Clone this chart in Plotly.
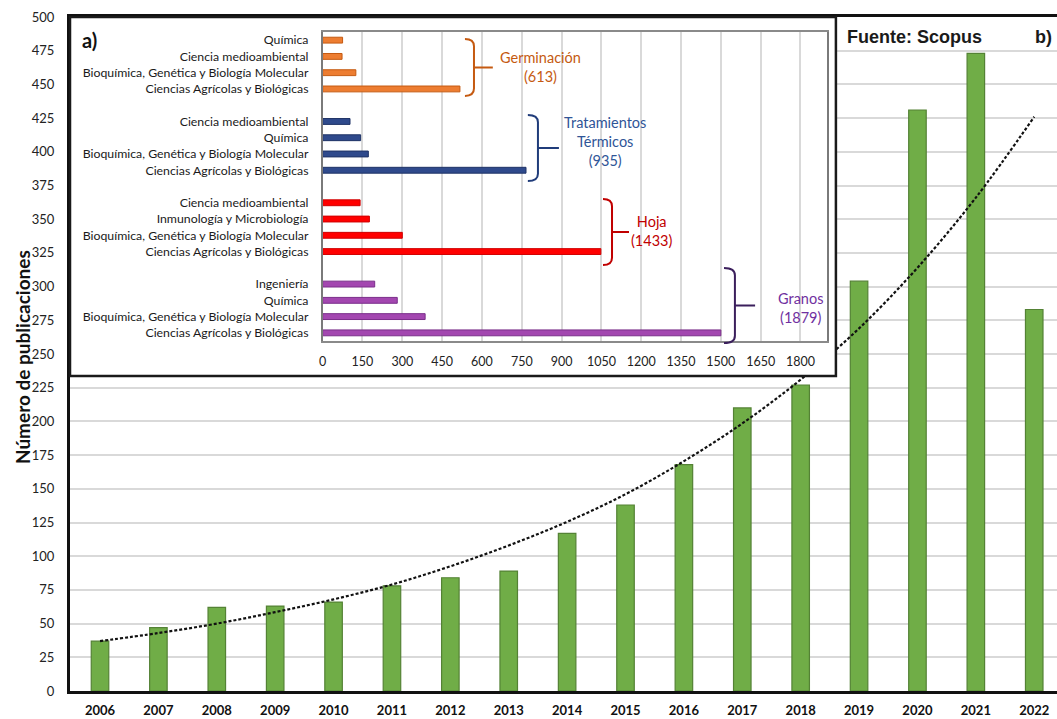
import plotly.graph_objects as go

# ---------------- data ----------------
years = ["2006", "2007", "2008", "2009", "2010", "2011", "2012", "2013", "2014",
         "2015", "2016", "2017", "2018", "2019", "2020", "2021", "2022"]
publications = [37, 47, 62, 63, 66, 78, 84, 89, 117, 138, 168, 210, 227, 304, 431, 473, 283]
trend_values = [37, 43, 50, 58.5, 68, 79, 92.5, 108, 125.5, 146, 170.5, 198.5, 231, 269, 314, 366, 426]

BQ = "Bioquímica, Genética y Biología Molecular"
CA = "Ciencias Agrícolas y Biológicas"
germ_cats = ["Química", "Ciencia medioambiental", BQ, CA]
germ_vals = [75, 73, 125, 517]
trat_cats = ["Ciencia medioambiental", "Química", BQ, CA]
trat_vals = [103, 143, 172, 766]
hoja_cats = ["Ciencia medioambiental", "Inmunología y Microbiología", BQ, CA]
hoja_vals = [141, 176, 300, 1048]
gran_cats = ["Ingeniería", "Química", BQ, CA]
gran_vals = [196, 281, 386, 1500]

group_names = ["Germinación<br>(613)", "Tratamientos<br>Térmicos<br>(935)", "Hoja<br>(1433)", "Granos<br>(1879)"]
inset_ticks = [0, 150, 300, 450, 600, 750, 900, 1050, 1200, 1350, 1500, 1650, 1800]

# ---------------- styles ----------------
FONT = "Lato"
groups = [
    (germ_cats, germ_vals, "#ED7D31", "#C55A11", "#C55A11", "#C55A11"),
    (trat_cats, trat_vals, "#2F4A8C", "#1F3366", "#2F5597", "#203C7A"),
    (hoja_cats, hoja_vals, "#FF0000", "#D00000", "#C00000", "#C00000"),
    (gran_cats, gran_vals, "#A347B0", "#7A2E8A", "#7030A0", "#3B1F5C"),
]
N_SLOTS = 19
INSET_X = [0.256, 0.767]
INSET_Y = [0.5193, 0.9777]
INSET_XR = [0, 1900]
INSET_YR = [-0.5, 18.5]
COVER_X = [0.0, 0.776]
COVER_Y = [0.4674, 1.0]

fig = go.Figure()

# main bars
fig.add_trace(go.Bar(
    x=years, y=publications, width=0.3,
    marker=dict(color="#70AD47", line=dict(color="#548235", width=1.2)),
    showlegend=False, hoverinfo="x+y"))
# trend line
fig.add_trace(go.Scatter(
    x=years, y=trend_values, mode="lines",
    line=dict(color="#111111", width=2.2, dash="3px,2px", shape="spline"),
    showlegend=False, hoverinfo="skip"))

# cover subplot (white box behind inset)
fig.add_trace(go.Scatter(x=[None], y=[None], xaxis="x2", yaxis="y2",
                         showlegend=False, hoverinfo="skip"))

# inset bars
tickvals, ticktext = [], []
for gi, (cats, vals, fill, edge, txtc, bracec) in enumerate(groups):
    pos = [N_SLOTS - 1 - (gi * 5 + i) for i in range(len(cats))]
    tickvals += pos
    ticktext += cats
    fig.add_trace(go.Bar(
        x=vals, y=pos, orientation="h", width=0.36, xaxis="x3", yaxis="y3",
        marker=dict(color=fill, line=dict(color=edge, width=1)),
        showlegend=False, hovertext=cats, hoverinfo="x+text"))


def to_paper(xv, yv):
    px = INSET_X[0] + (xv - INSET_XR[0]) / (INSET_XR[1] - INSET_XR[0]) * (INSET_X[1] - INSET_X[0])
    py = INSET_Y[0] + (yv - INSET_YR[0]) / (INSET_YR[1] - INSET_YR[0]) * (INSET_Y[1] - INSET_Y[0])
    return px, py


# braces: (x_left, x_vertical, x_tick, y_top, y_bottom) in inset data units
braces = [
    (536, 570, 641, 18.07, 14.57),
    (773, 811, 890, 13.40, 9.34),
    (1056, 1090, 1154, 8.23, 4.17),
    (1512, 1553, 1629, 3.99, -0.62),
]
label_pos = [(819, 16.38), (1064, 11.74), (1241, 6.26), (1799, 1.53)]

shapes = []
annotations = []
for (xl, xv, xt, yt, yb), (lx, ly), name, g in zip(braces, label_pos, group_names, groups):
    d = 0.45
    ym = (yt + yb) / 2
    p = {k: to_paper(*v) for k, v in {
        "a": (xl, yt), "b": (xv, yt), "c": (xv, yt - d), "e": (xv, yb + d),
        "f": (xv, yb), "g": (xl, yb), "m": (xv, ym), "t": (xt, ym)}.items()}
    path = ("M {a[0]},{a[1]} Q {b[0]},{b[1]} {c[0]},{c[1]} L {e[0]},{e[1]} "
            "Q {f[0]},{f[1]} {g[0]},{g[1]} M {m[0]},{m[1]} L {t[0]},{t[1]}").format(**p)
    shapes.append(dict(type="path", path=path, xref="paper", yref="paper",
                       line=dict(color=g[5], width=2), layer="above"))
    annotations.append(dict(text=name, x=lx, y=ly, xref="x3", yref="y3", showarrow=False,
                            font=dict(family=FONT, size=14.5, color=g[4]),
                            xanchor="center", yanchor="middle", align="center"))

# inset outer box border
shapes.append(dict(type="rect", xref="paper", yref="paper",
                   x0=COVER_X[0], x1=COVER_X[1], y0=COVER_Y[0], y1=COVER_Y[1],
                   line=dict(color="#1a1a1a", width=2.5), fillcolor="rgba(0,0,0,0)", layer="above"))

annotations += [
    dict(text="<b>a)</b>", x=0.0101, y=0.966, xref="paper", yref="paper", showarrow=False,
         xanchor="left", yanchor="middle", font=dict(family=FONT, size=20, color="#111111")),
    dict(text="<b>Fuente: Scopus</b>", x=0.785, y=0.970, xref="paper", yref="paper", showarrow=False,
         xanchor="left", yanchor="middle", font=dict(family="Liberation Sans", size=18, color="#1a1a1a")),
    dict(text="<b>b)</b>", x=0.9757, y=0.970, xref="paper", yref="paper", showarrow=False,
         xanchor="left", yanchor="middle", font=dict(family="Liberation Sans", size=18, color="#1a1a1a")),
    dict(text="<b>Número de publicaciones</b>", x=-0.0486, y=0.4955, xref="paper", yref="paper",
         showarrow=False, textangle=-90, xanchor="center", yanchor="middle",
         font=dict(family=FONT, size=19, color="#111111")),
]

fig.update_layout(
    width=1057, height=719,
    margin=dict(l=70, r=0, t=17, b=28, autoexpand=False),
    paper_bgcolor="white", plot_bgcolor="white",
    bargap=0.7,
    xaxis=dict(type="category", range=[-0.514, 16.39], showline=True, linecolor="#111111",
               linewidth=3, mirror=True, ticks="", showgrid=False, zeroline=False, automargin=False,
               tickfont=dict(family=FONT, size=13, color="#111111", weight="bold"),
               ticklabelstandoff=5),
    yaxis=dict(range=[0, 500], dtick=25, tick0=0, showgrid=True, gridcolor="#D9D9D9", gridwidth=2,
               showline=True, linecolor="#111111", linewidth=3, ticks="", zeroline=False, automargin=False,
               tickfont=dict(family=FONT, size=13, color="#222222"), ticklabelstandoff=10),
    xaxis2=dict(domain=COVER_X, anchor="y2", range=[0, 1], showgrid=False, zeroline=False,
                showticklabels=False, showline=False, ticks="", fixedrange=True, automargin=False),
    yaxis2=dict(domain=COVER_Y, anchor="x2", range=[0, 1], showgrid=False, zeroline=False,
                showticklabels=False, showline=False, ticks="", fixedrange=True, automargin=False),
    xaxis3=dict(domain=INSET_X, anchor="y3", range=INSET_XR, tickvals=inset_ticks,
                showgrid=True, gridcolor="#D9D9D9", gridwidth=1.5, showline=True, linecolor="#8a8a8a",
                linewidth=1.5, mirror=True, ticks="", zeroline=False, automargin=False,
                tickfont=dict(family=FONT, size=12.5, color="#222222"), ticklabelstandoff=8),
    yaxis3=dict(domain=INSET_Y, anchor="x3", range=INSET_YR, tickvals=tickvals, ticktext=ticktext,
                showgrid=False, showline=True, linecolor="#7a7a7a", linewidth=1.5, mirror=True,
                ticks="", zeroline=False, automargin=False,
                tickfont=dict(family=FONT, size=12.3, color="#1a1a1a"), ticklabelstandoff=10),
    shapes=shapes, annotations=annotations,
)

fig.write_html("out.html")
